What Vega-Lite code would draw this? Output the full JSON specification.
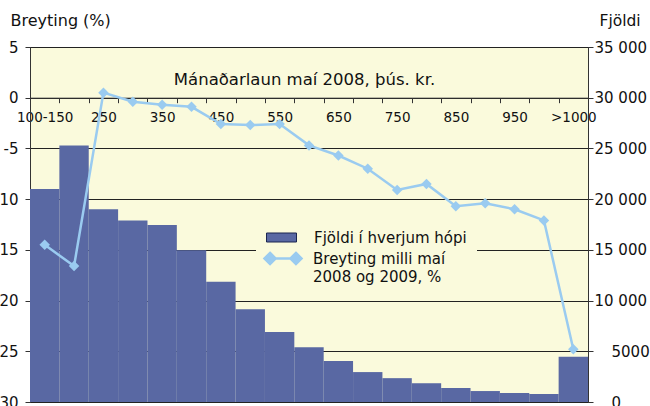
{
  "$schema": "https://vega.github.io/schema/vega-lite/v6.json",
  "autosize": "none",
  "width": 558,
  "height": 355,
  "padding": {"left": 30, "top": 47, "right": 62, "bottom": 4},
  "background": "white",
  "config": {
    "font": "DejaVu Sans",
    "view": {"fill": "#FAFADC", "stroke": "#222222", "strokeWidth": 1},
    "axis": {"labelColor": "#111111", "titleColor": "#111111", "titleFontWeight": "normal", "labelFont": "DejaVu Sans", "titleFont": "DejaVu Sans"},
    "legend": {"labelFont": "DejaVu Sans", "labelColor": "#111111"}
  },
  "data": {
    "values": [
      {"hopur": "100-150", "fjoldi": 21000, "breyting": -14.5},
      {"hopur": "200", "fjoldi": 25300, "breyting": -16.6},
      {"hopur": "250", "fjoldi": 19000, "breyting": 0.5},
      {"hopur": "300", "fjoldi": 17900, "breyting": -0.4},
      {"hopur": "350", "fjoldi": 17450, "breyting": -0.7},
      {"hopur": "400", "fjoldi": 14950, "breyting": -0.9},
      {"hopur": "450", "fjoldi": 11850, "breyting": -2.6},
      {"hopur": "500", "fjoldi": 9150, "breyting": -2.7},
      {"hopur": "550", "fjoldi": 6900, "breyting": -2.6},
      {"hopur": "600", "fjoldi": 5400, "breyting": -4.7},
      {"hopur": "650", "fjoldi": 4050, "breyting": -5.7},
      {"hopur": "700", "fjoldi": 2950, "breyting": -7.0},
      {"hopur": "750", "fjoldi": 2350, "breyting": -9.1},
      {"hopur": "800", "fjoldi": 1850, "breyting": -8.5},
      {"hopur": "850", "fjoldi": 1380, "breyting": -10.7},
      {"hopur": "900", "fjoldi": 1080, "breyting": -10.4},
      {"hopur": "950", "fjoldi": 890, "breyting": -11.0},
      {"hopur": "1000", "fjoldi": 790, "breyting": -12.1},
      {"hopur": ">1000", "fjoldi": 4450, "breyting": -24.8}
    ]
  },
  "encoding": {
    "x": {
      "field": "hopur",
      "type": "nominal",
      "sort": null,
      "scale": {"paddingInner": 0, "paddingOuter": 0},
      "axis": {
        "orient": "bottom",
        "offset": -304.3,
        "title": "Mánaðarlaun maí 2008, þús. kr.",
        "titleFontSize": 16.5,
        "titleX": 274,
        "titleY": -13,
        "titleAlign": "center",
        "titleBaseline": "alphabetic",
        "labelAngle": 0,
        "labelFontSize": 13.5,
        "labelPadding": 8,
        "labelExpr": "indexof(['100-150','250','350','450','550','650','750','850','950','>1000'], datum.value) >= 0 ? datum.label : ''",
        "labelOverlap": false,
        "tickBand": "extent",
        "tickSize": 5,
        "tickColor": "#333333",
        "domainColor": "#333333",
        "grid": false
      }
    }
  },
  "layer": [
    {
      "mark": {"type": "bar"},
      "encoding": {
        "y": {
          "field": "fjoldi",
          "type": "quantitative",
          "scale": {"domain": [0, 35000], "nice": false, "zero": true},
          "axis": {
            "orient": "right",
            "values": [0, 5000, 10000, 15000, 20000, 25000, 30000, 35000],
            "title": "Fjöldi",
            "titleAngle": 0,
            "titleFontSize": 15.5,
            "titleX": 11,
            "titleY": -22,
            "titleAlign": "left",
            "titleBaseline": "alphabetic",
            "labelFontSize": 15,
            "labelAlign": "left",
            "labelPadding": {"condition": {"test": "datum.value < 10000", "value": 18}, "value": 1},
            "labelExpr": "datum.value >= 10000 ? replace(format(datum.value, ','), ',', ' ') : format(datum.value, 'd')",
            "tickSize": 5,
            "tickColor": "#333333",
            "domainColor": "#333333",
            "grid": false
          }
        },
        "fill": {
          "datum": "Fjöldi í hverjum hópi",
          "scale": {"range": ["#5968A3"]},
          "legend": {
            "orient": "none",
            "legendX": 226,
            "legendY": 165,
            "title": null,
            "padding": 10,
            "fillColor": "#FAFADC",
            "symbolType": "M-1,-0.3H1V0.3H-1Z",
            "symbolSize": 900,
            "symbolStrokeColor": "#1A2550",
            "symbolStrokeWidth": 1,
            "labelFontSize": 15,
            "labelOffset": 17,
            "labelLimit": 300,
            "labelExpr": "datum.label + '\u00a0\u00a0\u00a0\u00a0\u00a0\u00a0'"
          }
        }
      }
    },
    {
      "mark": {"type": "line", "strokeWidth": 2.5},
      "encoding": {
        "y": {
          "field": "breyting",
          "type": "quantitative",
          "scale": {"domain": [-30, 5], "nice": false, "zero": false},
          "axis": {
            "orient": "left",
            "values": [-30, -25, -20, -15, -10, -5, 0, 5],
            "title": "Breyting (%)",
            "titleAngle": 0,
            "titleFontSize": 16,
            "titleX": -20,
            "titleY": -22,
            "titleAlign": "left",
            "titleBaseline": "alphabetic",
            "labelFontSize": 15,
            "labelPadding": 7,
            "labelExpr": "datum.value < 0 ? '-' + abs(datum.value) : '' + datum.value",
            "tickSize": 5,
            "tickColor": "#333333",
            "domainColor": "#333333",
            "grid": true,
            "gridColor": "#222222",
            "gridOpacity": 1,
            "gridWidth": 1
          }
        },
        "stroke": {
          "datum": "Breyting milli maí|2008 og 2009, %",
          "scale": {"range": ["#9ACBF0"]},
          "legend": {
            "orient": "none",
            "legendX": 233,
            "legendY": 191.5,
            "title": null,
            "padding": 0,
            "symbolType": "M-0.7,0H0.7M-0.7,-0.3L-0.4,0L-0.7,0.3L-1,0ZM0.7,-0.3L1,0L0.7,0.3L0.4,0Z",
            "symbolSize": 1369,
            "symbolStrokeWidth": 2.5,
            "symbolFillColor": "#9ACBF0",
            "labelFontSize": 15,
            "labelOffset": 10,
            "labelLimit": 300,
            "labelExpr": "split(datum.label, '|')",
            "encode": {
              "symbols": {"update": {"fill": {"value": "#9ACBF0"}, "stroke": {"value": "#9ACBF0"}}},
              "labels": {"update": {"lineHeight": {"value": 18}}}
            }
          }
        }
      }
    },
    {
      "mark": {"type": "point", "shape": "diamond", "filled": true, "size": 110, "color": "#9ACBF0", "opacity": 1},
      "encoding": {
        "y": {"field": "breyting", "type": "quantitative", "scale": {"domain": [-30, 5], "nice": false, "zero": false}, "axis": null}
      }
    }
  ],
  "resolve": {"scale": {"y": "independent"}}
}
